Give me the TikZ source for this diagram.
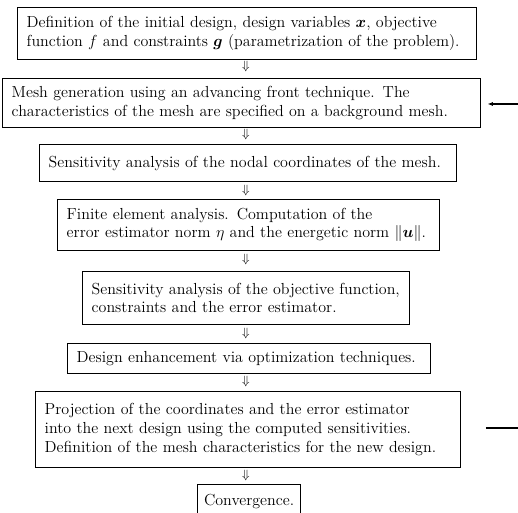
\documentclass[tikz,border=0pt]{standalone}
\usepackage{amsmath}
\usepackage{amsfonts}
\usetikzlibrary{arrows.meta,positioning}
\tikzset{%
   stepbox/.style={draw=black, line width=0.6pt, anchor=north west, align=left, inner xsep=7pt, inner ysep=0pt, font=\fontsize{12}{14}\selectfont},
   dn/.style={inner sep=0pt, font=\small},
   fb/.style={line width=0.8pt},
}

\begin{document}
\begin{tikzpicture}[x=0.75pt, y=-0.75pt]
         \path[fill=white] (0,0) rectangle (518,513);
         \useasboundingbox (0,0) rectangle (518,513);
         \clip (0,0) rectangle (518,513);
         \node[stepbox, text width=330pt, minimum height=39pt] (b1) at (17,7) {Definition of the initial design, design variables $\boldsymbol{x}$, objective\\ function $f$ and constraints $\boldsymbol{g}$ (parametrization of the problem).};
         \node[stepbox, text width=344.5pt, minimum height=37pt] (b2) at (2,78) {Mesh generation using an advancing front technique. The\\ characteristics of the mesh are specified on a background mesh.};
         \node[stepbox, text width=298.5pt, minimum height=28pt] (b3) at (39,144) {Sensitivity analysis of the nodal coordinates of the mesh.};
         \node[stepbox, text width=272.5pt, minimum height=38pt] (b4) at (57,199) {Finite element analysis. Computation of the\\ error estimator norm $\eta$ and the energetic norm $\|\boldsymbol{u}\|$.};
         \node[stepbox, text width=231pt, minimum height=40pt] (b5) at (82,271) {Sensitivity analysis of the objective function,\\ constraints and the error estimator.};
         \node[stepbox, text width=258pt, minimum height=22.5pt] (b6) at (67,343) {Design enhancement via optimization techniques.};
         \node[stepbox, text width=304.5pt, minimum height=57pt] (b7) at (35,391) {Projection of the coordinates and the error estimator\\ into the next design using the computed sensitivities.\\ Definition of the mesh characteristics for the new design.};
         \node[stepbox, minimum height=26pt, inner xsep=5pt] (b8) at (197,484) {Convergence.};
         \node[dn] (d1) at (246,67) {$\Downarrow$};
         \node[dn] (d2) at (246,135) {$\Downarrow$};
         \node[dn] (d3) at (246,191) {$\Downarrow$};
         \node[dn] (d4) at (246,260) {$\Downarrow$};
         \node[dn] (d5) at (246,334) {$\Downarrow$};
         \node[dn] (d6) at (246,382) {$\Downarrow$};
         \node[dn] (d7) at (246,476) {$\Downarrow$};
         \coordinate (in2) at (530,104);
         \coordinate (out7) at (530,428);
         \draw[fb, -{Latex[length=4pt, width=3pt]}, shorten >=5pt] (in2) -- (b2.east |- in2);
         \draw[fb, shorten <=19pt] (b7.east |- out7) -- (out7);
\end{tikzpicture}
\end{document}
